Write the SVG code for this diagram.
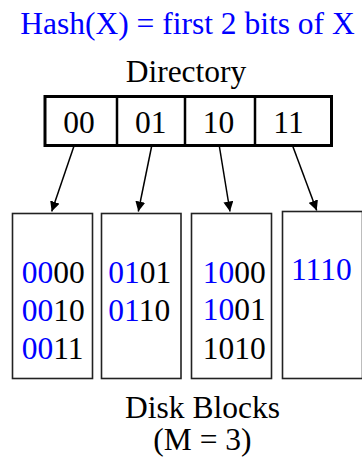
<svg xmlns="http://www.w3.org/2000/svg" width="362" height="461" viewBox="0 0 362 461">
<style>
.b{fill:#0000ff}
.blk{fill:#fff;stroke:#222;stroke-width:1.6}
.dir{fill:#fff;stroke:#000;stroke-width:3}
.conn line{stroke:#000;stroke-width:1.5}
</style>
<defs>
<marker id="ah" viewBox="0 0 10 10" refX="10" refY="5" markerWidth="10" markerHeight="10" markerUnits="userSpaceOnUse" orient="auto">
<path d="M0,0 L10,5 L0,10 Z" fill="#000"/>
</marker>
</defs>
<g font-family="Liberation Serif" font-size="31.5" fill="#000">
<text id="title" class="b" x="187.5" y="34" text-anchor="middle">Hash(X) = first 2 bits of X</text>
<g id="directory">
<text x="186" y="82.3" text-anchor="middle">Directory</text>
<rect class="dir" x="45" y="96.5" width="286.5" height="49"/>
<line x1="117" y1="96.5" x2="117" y2="145.5" stroke="#000" stroke-width="2.5"/>
<line x1="185" y1="96.5" x2="185" y2="145.5" stroke="#000" stroke-width="2.5"/>
<line x1="255" y1="96.5" x2="255" y2="145.5" stroke="#000" stroke-width="2.5"/>
<text x="63.3" y="133.3">00</text>
<text x="135" y="133.3">01</text>
<text x="202.7" y="133.3">10</text>
<text x="273.3" y="133.3">11</text>
</g>
<g class="conn" id="connectors">
<line x1="74" y1="146" x2="51.7" y2="211.5" marker-end="url(#ah)"/>
<line x1="151.7" y1="146" x2="138.3" y2="211.5" marker-end="url(#ah)"/>
<line x1="219.3" y1="146" x2="230" y2="211.5" marker-end="url(#ah)"/>
<line x1="292.7" y1="146" x2="316.7" y2="210.5" marker-end="url(#ah)"/>
</g>
<g id="block1">
<rect class="blk" x="12.5" y="213.5" width="80" height="165"/>
<text x="21.7" y="283.3"><tspan class="b">00</tspan>00</text>
<text x="21.7" y="321"><tspan class="b">00</tspan>10</text>
<text x="21.7" y="359.3"><tspan class="b">00</tspan>11</text>
</g>
<g id="block2">
<rect class="blk" x="101.5" y="213.5" width="79.5" height="165"/>
<text x="108.3" y="283.3"><tspan class="b">01</tspan>01</text>
<text x="108.3" y="321"><tspan class="b">01</tspan>10</text>
</g>
<g id="block3">
<rect class="blk" x="191.5" y="213.5" width="80" height="165"/>
<text x="202.7" y="282.7"><tspan class="b">10</tspan>00</text>
<text x="202.7" y="320.3"><tspan class="b">10</tspan>01</text>
<text x="202.7" y="359.3">1010</text>
</g>
<g id="block4">
<rect class="blk" x="282.5" y="211.5" width="80" height="167"/>
<text class="b" x="291" y="280.3">1110</text>
</g>
<text x="202.5" y="417.7" text-anchor="middle">Disk Blocks</text>
<text x="202.5" y="449.5" text-anchor="middle">(M = 3)</text>
</g>
</svg>
